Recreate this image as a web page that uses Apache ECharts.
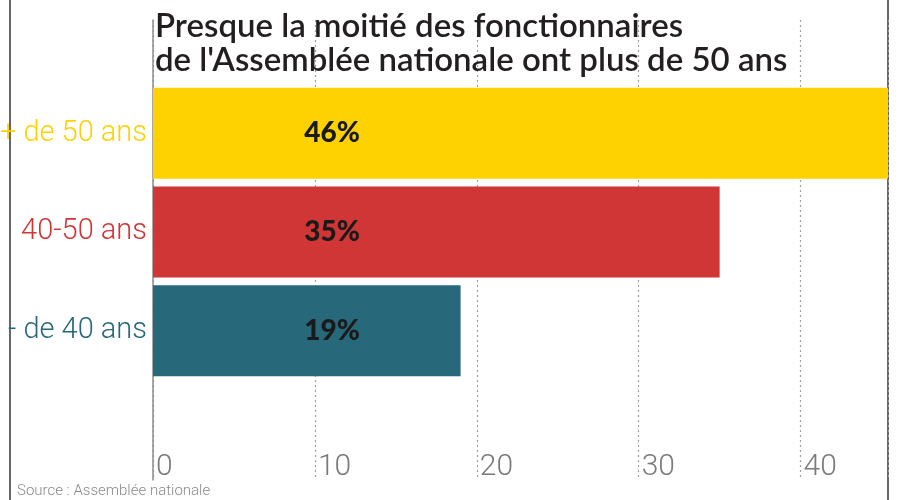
<!DOCTYPE html>
<html><head><meta charset="utf-8">
<script src="https://cdn.jsdelivr.net/npm/echarts@6/dist/echarts.min.js"></script>
<style>html,body{margin:0;padding:0;background:#fff}#c{width:900px;height:500px}</style>
</head><body><div id="c"></div>
<script>
const titleText = "Presque la moitié des fonctionnaires\nde l'Assemblée nationale ont plus de 50 ans";
const sourceText = "Source : Assemblée nationale";
const categories = ["+ de 50 ans", "40-50 ans", "- de 40 ans"];
const values = [46, 35, 19];
const valueLabels = ["46%", "35%", "19%"];
const colors = ["#fdd200", "#d03636", "#27687a"];
const ticks = [0, 10, 20, 30, 40];

const chart = echarts.init(document.getElementById('c'));
const xMax = 45.4;
const light = "Roboto, 'Liberation Sans', sans-serif";
chart.setOption({
  backgroundColor: '#fff',
  animation: false,
  title: {
    text: titleText, left: 150, top: 4,
    textStyle: { fontFamily: "Lato, 'Liberation Sans', sans-serif", fontSize: 33, fontWeight: 600, color: '#231f20', lineHeight: 34 }
  },
  grid: [
    { left: 153, right: 12, top: 20, bottom: 20, outerBoundsMode: 'none', containLabel: false },
    { left: 153, right: 12, top: 84, height: 296, outerBoundsMode: 'none', containLabel: false }
  ],
  xAxis: [
    { gridIndex: 0, type: 'value', min: 0, max: xMax, interval: 10,
      axisLine: { show: false }, axisTick: { show: false },
      splitLine: { show: true, lineStyle: { type: [2, 3], color: '#a0a0a0', width: 1.2 } },
      axisLabel: { inside: true, showMaxLabel: false, align: 'left', verticalAlign: 'bottom', margin: -2, padding: [0, 0, 0, 3],
        fontFamily: light, fontWeight: 300, fontSize: 30, color: '#7a7a7a',
        formatter: v => ticks.includes(v) ? String(v) : '' } },
    { gridIndex: 1, type: 'value', min: 0, max: xMax, show: false }
  ],
  yAxis: [
    { gridIndex: 0, type: 'value', axisLine: { show: true, lineStyle: { color: '#8c8c8c', width: 1.5 } },
      axisTick: { show: false }, axisLabel: { show: false }, splitLine: { show: false } },
    { gridIndex: 1, type: 'category', inverse: true,
      data: categories.map((c, i) => ({ value: c, textStyle: { color: colors[i] } })),
      axisLine: { show: false }, axisTick: { show: false }, splitLine: { show: false },
      axisLabel: { margin: 6, fontFamily: light, fontSize: 29, fontWeight: 300 } }
  ],
  series: [{
    type: 'bar', xAxisIndex: 1, yAxisIndex: 1, barWidth: 91, clip: true,
    data: values.map((v, i) => ({ value: v, itemStyle: { color: colors[i] } })),
    label: { show: true, position: [179, '50%'], align: 'center', verticalAlign: 'middle',
      formatter: p => valueLabels[p.dataIndex],
      fontFamily: "Lato, sans-serif", fontWeight: 900, fontSize: 28, color: '#1a1a1a' }
  }],
  graphic: [
    { type: 'line', shape: { x1: 10, y1: 0, x2: 10, y2: 500 }, style: { stroke: '#333', lineWidth: 1.5 } },
    { type: 'line', shape: { x1: 888, y1: 0, x2: 888, y2: 500 }, style: { stroke: '#333', lineWidth: 1.5 } },
    { type: 'text', left: 17, top: 484, style: { text: sourceText, fontFamily: light, fontWeight: 300, fontSize: 15, fill: '#8a8a8a' } }
  ]
});
</script></body></html>
